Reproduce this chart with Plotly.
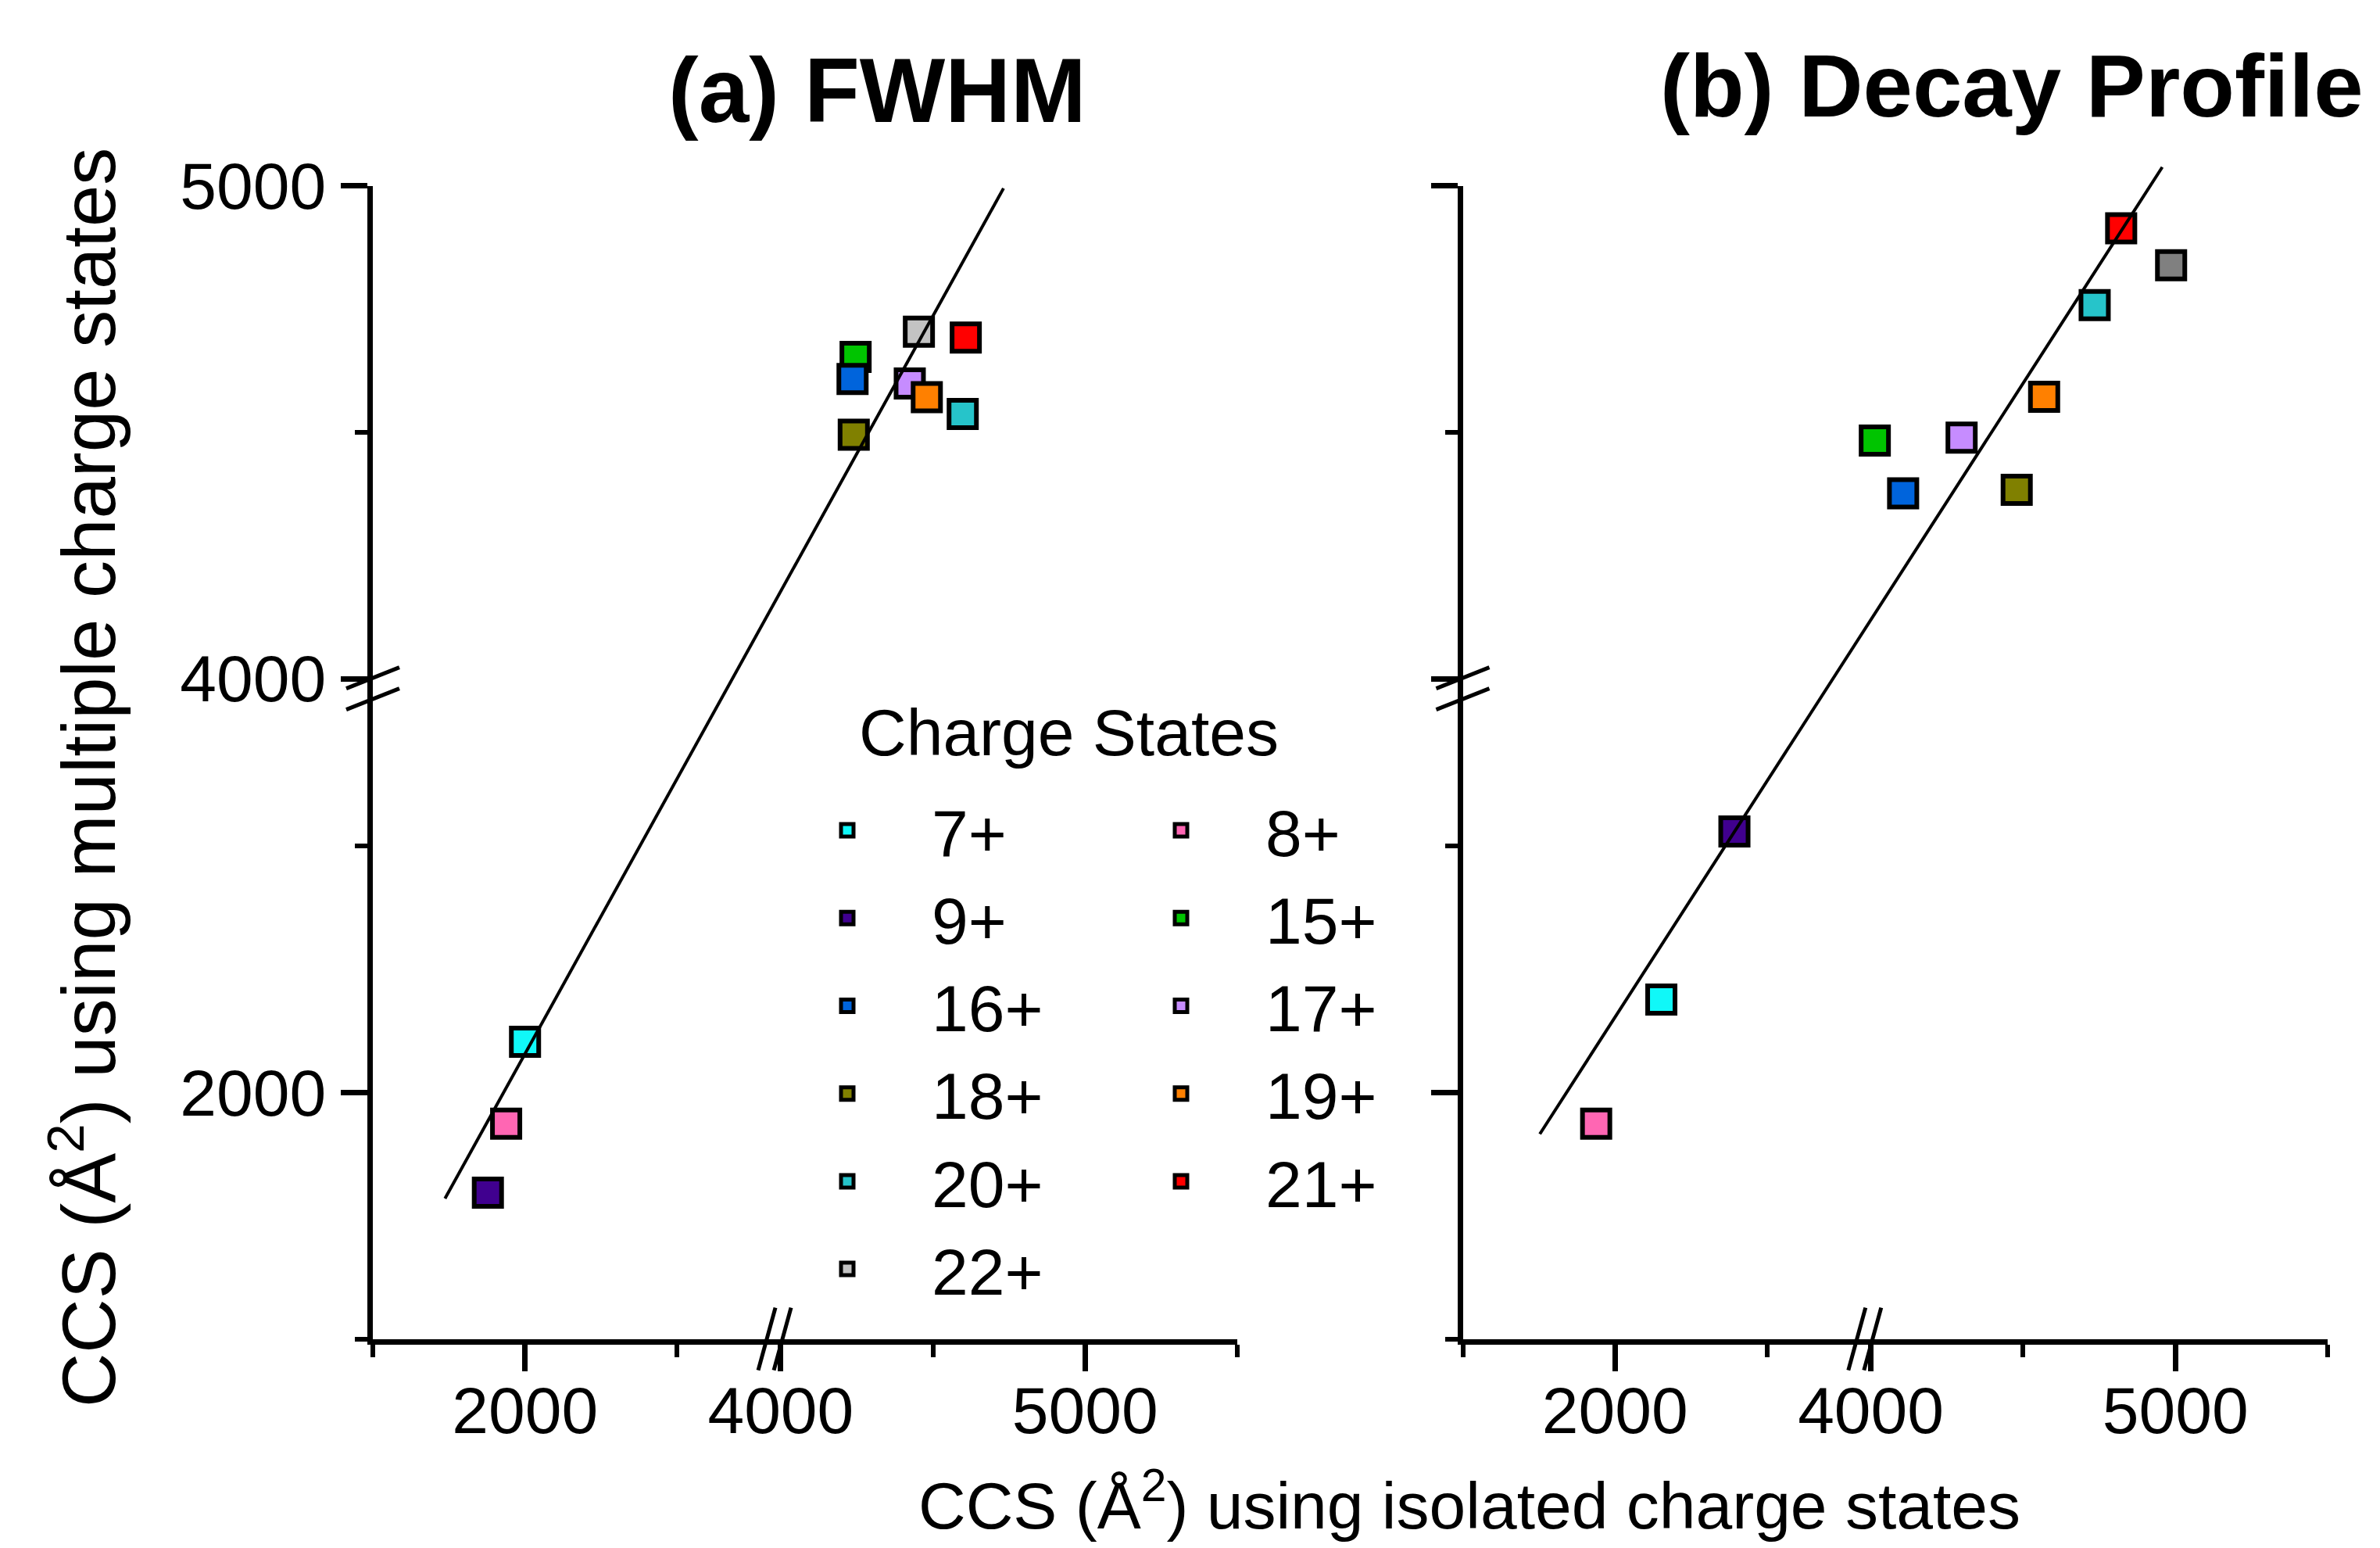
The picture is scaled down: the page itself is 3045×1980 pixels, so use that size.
import plotly.graph_objects as go

# ---------------- data ----------------
charge_states = ["7+", "8+", "9+", "15+", "16+", "17+", "18+", "19+", "20+", "21+", "22+"]
colors_fwhm = ["#10F8F8", "#FF66B3", "#40008F", "#00C400", "#0064DC", "#C68CFF",
               "#808000", "#FF8000", "#26C4CA", "#FF0000", "#C3C3C3"]
colors_decay = ["#10F8F8", "#FF66B3", "#40008F", "#00C400", "#0064DC", "#C68CFF",
                "#808000", "#FF8000", "#26C4CA", "#FF0000", "#808080"]

# (a) FWHM: CCS isolated (x) vs CCS multiple (y)
fwhm_x = [2000, 1938, 1878, 4246, 4236, 4424, 4240, 4480, 4598, 4608, 4454]
fwhm_y = [2103, 1937, 1797, 4653, 4608, 4599, 4495, 4571, 4537, 4692, 4704]
fwhm_fit_x = [1737, 4732]
fwhm_fit_y = [1785, 4995]

# (b) Decay profile
decay_x = [2152, 1938, 2392, 4013, 4106, 4298, 4479, 4569, 4735, 4822, 4986]
decay_y = [2189, 1937, 2530, 4483, 4376, 4489, 4383, 4572, 4758, 4914, 4839]
decay_fit_x = [1753, 4957]
decay_fit_y = [1916, 5038]

x_tick_vals = [2000, 4000, 5000]
x_minor_vals = [1500, 2500, 4500, 5500]
y_tick_vals = [2000, 4000, 5000]
y_minor_vals = [1500, 2500, 4500]
x_limits = [1500, 5500]
y_limits = [1500, 5000]

# axis break (same on both axes): values between BREAK_LOW and BREAK_HIGH are cut out
BREAK_LOW, BREAK_HIGH, BREAK_GAP = 2800, 4000, 40


def brk(v):
    return v if v <= BREAK_LOW else v - (BREAK_HIGH - BREAK_LOW) + BREAK_GAP


BREAK_MID = (brk(BREAK_LOW) + brk(BREAK_HIGH)) / 2

# ---------------- layout constants (page pixels -> paper) ----------------
PAGE_W, PAGE_H = 3045, 1980
OFF = 8                      # default body margin of the html page
W, H = PAGE_W - 2 * OFF, PAGE_H - 2 * OFF
FONT = "Liberation Sans, Arial, sans-serif"


def px(p):
    return (p - OFF) / W


def py(p):
    return 1 - (p - OFF) / H


Y_TOP, Y_BOT = 237.7, 1712.7
dom_xa = [px(477), px(1583)]
dom_xb = [px(1871.5), px(2978)]
dom_y = [py(Y_BOT), py(Y_TOP)]

# fit lines may reach slightly above the axis end: they live on an invisible
# overlay subplot with the same scale but a taller range
Y_RANGE = [brk(y_limits[0]), brk(y_limits[1])]
PX_PER_UNIT = (Y_BOT - Y_TOP) / (Y_RANGE[1] - Y_RANGE[0])
EXT_UNITS = 120
dom_y_ext = [py(Y_BOT), py(Y_TOP - EXT_UNITS * PX_PER_UNIT)]

fig = go.Figure()

panels = [
    dict(xs=fwhm_x, ys=fwhm_y, colors=colors_fwhm, fx=fwhm_fit_x, fy=fwhm_fit_y,
         xa="x", ya="y", fxa="x3", fya="y3", show=True),
    dict(xs=decay_x, ys=decay_y, colors=colors_decay, fx=decay_fit_x, fy=decay_fit_y,
         xa="x2", ya="y2", fxa="x4", fya="y4", show=False),
]

for p in panels:
    for i, cs in enumerate(charge_states):
        fig.add_trace(go.Scatter(
            x=[brk(p["xs"][i])], y=[brk(p["ys"][i])],
            mode="markers", name=cs,
            marker=dict(symbol="square", size=35, color=p["colors"][i],
                        line=dict(color="black", width=6)),
            xaxis=p["xa"], yaxis=p["ya"],
            showlegend=p["show"],
            legend="legend" if i % 2 == 0 else "legend2",
            cliponaxis=False, hoverinfo="skip",
        ))
for p in panels:
    fig.add_trace(go.Scatter(
        x=[brk(v) for v in p["fx"]], y=[brk(v) for v in p["fy"]],
        mode="lines", line=dict(color="black", width=4),
        xaxis=p["fxa"], yaxis=p["fya"], showlegend=False, cliponaxis=False,
        hoverinfo="skip",
    ))

axis_common = dict(
    showline=True, linewidth=7, linecolor="black",
    ticks="outside", ticklen=34, tickwidth=7, tickcolor="black",
    showgrid=False, zeroline=False, automargin=False, fixedrange=True,
    tickfont=dict(family=FONT, size=84, color="black"),
    tickmode="array",
)


def xaxis(domain, anchor):
    return dict(axis_common, domain=domain, anchor=anchor,
                range=[brk(x_limits[0]), brk(x_limits[1])],
                tickvals=[brk(v) for v in x_tick_vals],
                ticktext=[str(v) for v in x_tick_vals],
                ticklabelstandoff=-22,
                minor=dict(tickmode="array", tickvals=[brk(v) for v in x_minor_vals],
                           ticks="outside", ticklen=16, tickwidth=6, tickcolor="black",
                           showgrid=False))


def yaxis(anchor, labels):
    return dict(axis_common, domain=dom_y, anchor=anchor,
                range=Y_RANGE,
                tickvals=[brk(v) for v in y_tick_vals],
                ticktext=[str(v) for v in y_tick_vals],
                showticklabels=labels,
                ticklabelstandoff=2,
                minor=dict(tickmode="array", tickvals=[brk(v) for v in y_minor_vals],
                           ticks="outside", ticklen=16, tickwidth=6, tickcolor="black",
                           showgrid=False))


def hidden_x(domain, anchor):
    return dict(domain=domain, anchor=anchor, visible=False, fixedrange=True,
                range=[brk(x_limits[0]), brk(x_limits[1])])


def hidden_y(anchor):
    return dict(domain=dom_y_ext, anchor=anchor, visible=False, fixedrange=True,
                range=[Y_RANGE[0], Y_RANGE[1] + EXT_UNITS])


# break symbols (//) on every axis
shapes = []
for xa, ya in (("x", "y"), ("x2", "y2")):
    for dx in (0, 20):
        shapes.append(dict(type="line", xref=xa, yref=ya + " domain",
                           xsizemode="pixel", ysizemode="pixel",
                           xanchor=BREAK_MID, yanchor=0,
                           x0=dx - 21, y0=-40, x1=dx + 1, y1=40,
                           line=dict(color="black", width=5), layer="above"))
    for dy in (0, -27):
        shapes.append(dict(type="line", xref=xa + " domain", yref=ya,
                           xsizemode="pixel", ysizemode="pixel",
                           xanchor=0, yanchor=BREAK_MID,
                           x0=-34, y0=dy, x1=34, y1=dy + 27,
                           line=dict(color="black", width=5), layer="above"))

annotations = [
    dict(text="<b>(a) FWHM</b>", x=px(1122), y=py(116), xref="paper", yref="paper",
         xanchor="center", yanchor="middle", showarrow=False,
         font=dict(family=FONT, size=116, color="black")),
    dict(text="<b>(b) Decay Profile</b>", x=px(2574), y=py(110), xref="paper", yref="paper",
         xanchor="center", yanchor="middle", showarrow=False,
         font=dict(family=FONT, size=114, color="black")),
    dict(text="CCS (Å<sup>2</sup>) using isolated charge states", x=px(1880), y=py(1920),
         xref="paper", yref="paper", xanchor="center", yanchor="middle", showarrow=False,
         font=dict(family=FONT, size=84, color="black")),
    dict(text="CCS (Å<sup>2</sup>) using multiple charge states", x=px(106), y=py(995),
         xref="paper", yref="paper", xanchor="center", yanchor="middle", showarrow=False,
         textangle=-90, font=dict(family=FONT, size=96, color="black")),
    dict(text="Charge States", x=px(1367), y=py(937), xref="paper", yref="paper",
         xanchor="center", yanchor="middle", showarrow=False,
         font=dict(family=FONT, size=84, color="black")),
]

legend_common = dict(
    orientation="v", xanchor="left", yanchor="top", y=py(1001),
    bgcolor="rgba(0,0,0,0)", borderwidth=0, itemwidth=206, traceorder="normal",
    font=dict(family=FONT, size=84, color="black"),
)

fig.update_layout(
    width=W, height=H,
    margin=dict(l=0, r=0, t=0, b=0),
    paper_bgcolor="white", plot_bgcolor="rgba(0,0,0,0)",
    font=dict(family=FONT, color="black"),
    xaxis=xaxis(dom_xa, "y"),
    yaxis=yaxis("x", True),
    xaxis2=xaxis(dom_xb, "y2"),
    yaxis2=yaxis("x2", False),
    xaxis3=hidden_x(dom_xa, "y3"),
    yaxis3=hidden_y("x3"),
    xaxis4=hidden_x(dom_xb, "y4"),
    yaxis4=hidden_y("x4"),
    shapes=shapes,
    annotations=annotations,
    legend=dict(legend_common, x=px(976)),
    legend2=dict(legend_common, x=px(1403)),
    showlegend=True,
    hovermode=False,
)

fig.write_html("out.html")
